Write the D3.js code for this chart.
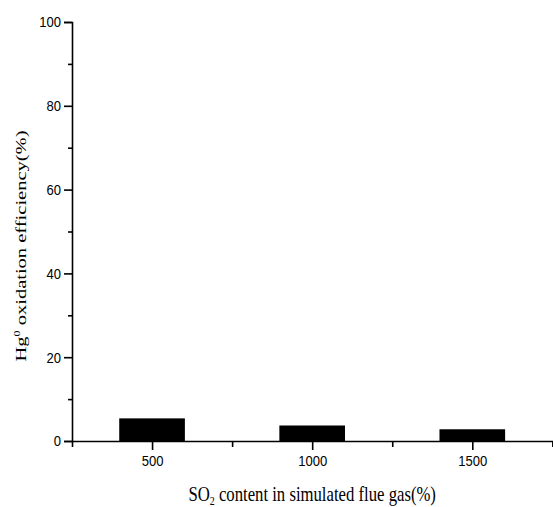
<!DOCTYPE html>
<html>
<head>
<meta charset="utf-8">
<script src="https://cdn.jsdelivr.net/npm/d3@7"></script>
<style>
  body { margin:0; background:#fff; }
  svg { display:block; }
</style>
</head>
<body>
<div id="chart"></div>
<script>
// data
var so2Levels = [500, 1000, 1500];
var oxidationEff = [5.4, 3.7, 2.8];
var yTicks = [0, 20, 40, 60, 80, 100];
var xTicks = [500, 1000, 1500];

var W = 553, H = 507;
var padL = 72, padR = 553, padT = 22, padB = 441;

var svg = d3.select("#chart").append("svg")
    .attr("width", W)
    .attr("height", H);

var x = d3.scaleLinear().domain([250, 1752]).range([padL, padR]);
var y = d3.scaleLinear().domain([0, 100]).range([padB, padT]);
var barW = 205; // in x units

// bars
svg.selectAll(".bar")
    .data(so2Levels)
    .enter()
    .append("rect")
    .attr("class", "bar")
    .attr("x", function(d){ return x(d - barW/2); })
    .attr("width", function(d){ return x(d + barW/2) - x(d - barW/2); })
    .attr("y", function(d,i){ return y(oxidationEff[i]); })
    .attr("height", function(d,i){ return y(0) - y(oxidationEff[i]); })
    .attr("fill", "#000");

// y axis
var yAx = svg.append("g")
    .attr("transform", "translate(" + padL + ",0)")
    .call(d3.axisLeft(y).tickValues(yTicks).tickSize(8).tickPadding(3).tickFormat(d3.format("d")));
svg.append("g")
    .attr("transform", "translate(" + padL + ",0)")
    .call(d3.axisLeft(y).tickValues(d3.range(10, 100, 20)).tickSize(4).tickFormat(""))
    .select(".domain").remove();

// x axis
var xAx = svg.append("g")
    .attr("transform", "translate(0," + padB + ")")
    .call(d3.axisBottom(x).tickValues(xTicks).tickSize(9).tickPadding(5).tickSizeOuter(0).tickFormat(d3.format("d")));
svg.append("g")
    .attr("transform", "translate(0," + padB + ")")
    .call(d3.axisBottom(x).tickValues([250, 750, 1250, 1750]).tickSize(6).tickFormat(""))
    .select(".domain").remove();

svg.selectAll(".domain").attr("stroke", "#000").attr("stroke-width", 1.6);
svg.selectAll(".tick line").attr("stroke", "#000").attr("stroke-width", 1.6);
// the source image is squeezed sideways, so text gets a narrow scale
var sx = 0.87;
svg.selectAll(".tick text")
    .attr("fill", "#000")
    .attr("transform", "scale(" + sx + ",1)")
    .style("font-family", "'Liberation Sans', Arial, sans-serif")
    .style("font-size", "15px");
yAx.selectAll(".tick text").attr("x", -11 / sx);

// axis titles
var xt = svg.append("text")
    .attr("transform", "translate(" + x(1000) + ",501) scale(0.76,1)")
    .attr("text-anchor", "middle")
    .style("font-family", "'Liberation Serif', 'Times New Roman', serif")
    .style("font-size", "22px")
    .attr("fill", "#000");
xt.append("tspan").text("SO");
xt.append("tspan").attr("dy", 4).style("font-size", "13px").text("2");
xt.append("tspan").attr("dy", -4).text(" content in simulated flue gas(%)");

var yt = svg.append("text")
    .attr("transform", "translate(26,246) rotate(-90) scale(1,0.75)")
    .attr("text-anchor", "middle")
    .style("font-family", "'Liberation Serif', 'Times New Roman', serif")
    .style("font-size", "20.5px")
    .attr("fill", "#000");
yt.append("tspan").text("Hg");
yt.append("tspan").attr("dy", -8).style("font-size", "12px").text("0");
yt.append("tspan").attr("dy", 8).text(" oxidation efficiency(%)");
</script>
</body>
</html>
